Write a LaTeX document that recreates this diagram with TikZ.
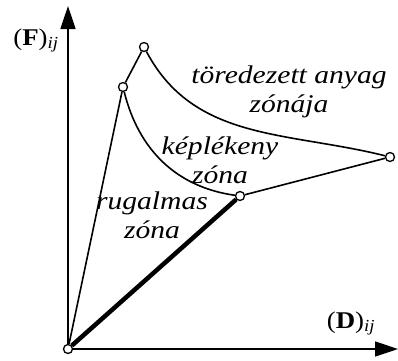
\documentclass[tikz,border=0pt]{standalone}
\usepackage{fontspec}
\setmainfont{Liberation Serif}[FakeStretch=1.12]
\newfontfamily\zonefont{Liberation Serif}[FakeStretch=1.16]
\usetikzlibrary{arrows.meta}
\tikzset{
  pnt/.style={circle,draw,fill=white,line width=1.3pt,inner sep=0pt,minimum size=9pt},
  axis/.style={line width=1.6pt,-{Triangle[length=23pt,width=15pt]}},
  thin line/.style={line width=1.6pt},
  zonelabel/.style={font=\zonefont\fontsize{25.5}{28.5}\selectfont\itshape,align=center,anchor=base,inner sep=0pt},
  axlabel/.style={font=\fontsize{24}{28}\selectfont,anchor=base,inner sep=0pt}
}
\begin{document}
\begin{tikzpicture}[x=1pt,y=-1pt]
\useasboundingbox (0,0) rectangle (398,360);
% axes
\coordinate (ytip) at (68,6);
\coordinate (xtip) at (398,349);
\node[pnt] (o) at (68,349) {};
\draw[axis] (o) -- (ytip);
\draw[axis] (o) -- (xtip);
% points
\node[pnt] (a) at (123,87) {};
\node[pnt] (b) at (144,47) {};
\node[pnt] (c) at (390,157) {};
\node[pnt] (d) at (240,196) {};
% lines
\draw[thin line] (o) -- (a);
\draw[thin line] (a) -- (b);
\draw[line width=4.5pt] (o) -- (d);
\draw[thin line] (d) -- (c);
\draw[thin line] (a) to[out=-76,in=172] (d);
\draw[thin line] (b) to[out=-62,in=166] (c);
% labels
\node[zonelabel] (fr) at (289,112) {töredezett anyag\\zónája};
\node[zonelabel] (pl) at (220,183) {képlékeny\\zóna};
\node[zonelabel] (el) at (152,238) {rugalmas\\zóna};
\node[axlabel] (fl) at (36,45) {(\textbf{F})\textsubscript{\itshape ij}};
\node[axlabel] (dl) at (351,328) {(\textbf{D})\textsubscript{\itshape ij}};
\end{tikzpicture}
\end{document}
